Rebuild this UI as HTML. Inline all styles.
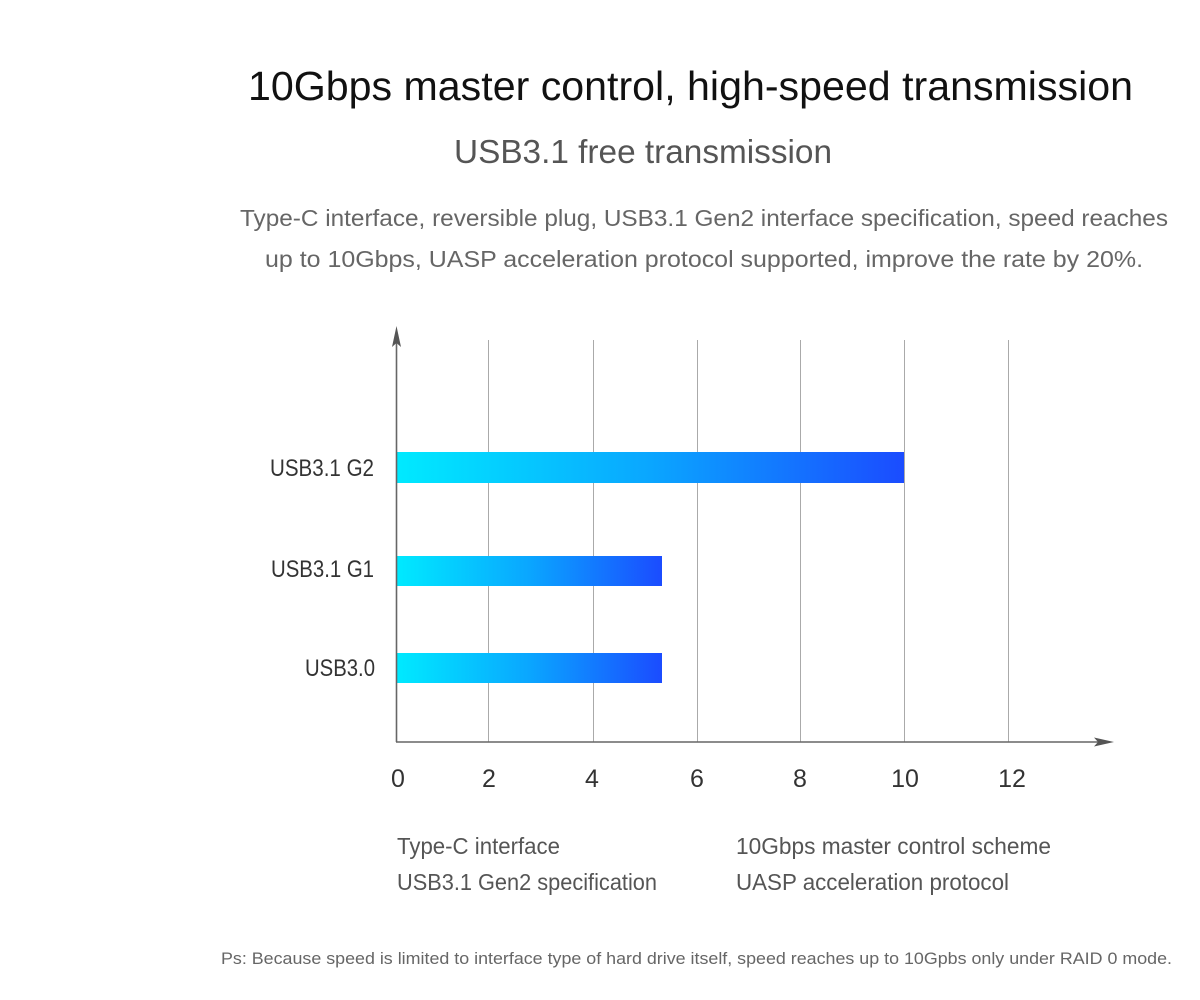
<!DOCTYPE html>
<html>
<head>
<meta charset="utf-8">
<style>
  html,body{margin:0;padding:0;background:#fff;}
  svg{display:block;}
  text{font-family:"Liberation Sans", sans-serif;}
</style>
</head>
<body>
<svg width="1200" height="1000" viewBox="0 0 1200 1000" xmlns="http://www.w3.org/2000/svg">
  <defs>
    <linearGradient id="bar" x1="0" y1="0" x2="1" y2="0">
      <stop offset="0" stop-color="#00eaff"/>
      <stop offset="0.5" stop-color="#0aa6ff"/>
      <stop offset="1" stop-color="#1b4cff"/>
    </linearGradient>
  </defs>
  <rect width="1200" height="1000" fill="#fff"/>

  <!-- Headings -->
  <text x="248" y="100" font-size="41" fill="#111" textLength="885" lengthAdjust="spacingAndGlyphs">10Gbps master control, high-speed transmission</text>
  <text x="454" y="163" font-size="33" fill="#555" textLength="378" lengthAdjust="spacingAndGlyphs">USB3.1 free transmission</text>
  <text x="240" y="226" font-size="23" fill="#666" textLength="928" lengthAdjust="spacingAndGlyphs">Type-C interface, reversible plug, USB3.1 Gen2 interface specification, speed reaches</text>
  <text x="265" y="267" font-size="23" fill="#666" textLength="878" lengthAdjust="spacingAndGlyphs">up to 10Gbps, UASP acceleration protocol supported, improve the rate by 20%.</text>

  <!-- gridlines -->
  <g stroke="#aaa" stroke-width="1">
    <line x1="488.5" y1="340" x2="488.5" y2="742"/>
    <line x1="593.5" y1="340" x2="593.5" y2="742"/>
    <line x1="697.5" y1="340" x2="697.5" y2="742"/>
    <line x1="800.5" y1="340" x2="800.5" y2="742"/>
    <line x1="904.5" y1="340" x2="904.5" y2="742"/>
    <line x1="1008.5" y1="340" x2="1008.5" y2="742"/>
  </g>

  <!-- bars -->
  <rect x="397" y="452" width="507" height="31" fill="url(#bar)"/>
  <rect x="397" y="556" width="265" height="30" fill="url(#bar)"/>
  <rect x="397" y="653" width="265" height="30" fill="url(#bar)"/>

  <!-- axes -->
  <g stroke="#666" stroke-width="1.6" fill="none">
    <line x1="396.5" y1="742" x2="396.5" y2="340"/>
    <line x1="396" y1="742" x2="1102" y2="742"/>
  </g>
  <path d="M396.5 326 L401 347 L396.5 343 L392 347 Z" fill="#555"/>
  <path d="M1114 742 L1094 737.5 L1098 742 L1094 746.5 Z" fill="#555"/>

  <!-- y labels -->
  <text x="270" y="476" font-size="24" fill="#333" textLength="104" lengthAdjust="spacingAndGlyphs">USB3.1 G2</text>
  <text x="271" y="577" font-size="24" fill="#333" textLength="103" lengthAdjust="spacingAndGlyphs">USB3.1 G1</text>
  <text x="305" y="676" font-size="24" fill="#333" textLength="70" lengthAdjust="spacingAndGlyphs">USB3.0</text>

  <!-- x ticks -->
  <g font-size="25" fill="#333" text-anchor="middle">
    <text x="398" y="787">0</text>
    <text x="489" y="787">2</text>
    <text x="592" y="787">4</text>
    <text x="697" y="787">6</text>
    <text x="800" y="787">8</text>
    <text x="905" y="787">10</text>
    <text x="1012" y="787">12</text>
  </g>

  <!-- bottom features -->
  <text x="397" y="854" font-size="23" fill="#555" textLength="163" lengthAdjust="spacingAndGlyphs">Type-C interface</text>
  <text x="397" y="890" font-size="23" fill="#555" textLength="260" lengthAdjust="spacingAndGlyphs">USB3.1 Gen2 specification</text>
  <text x="736" y="854" font-size="23" fill="#555" textLength="315" lengthAdjust="spacingAndGlyphs">10Gbps master control scheme</text>
  <text x="736" y="890" font-size="23" fill="#555" textLength="273" lengthAdjust="spacingAndGlyphs">UASP acceleration protocol</text>

  <text x="221" y="964" font-size="17" fill="#666" textLength="951" lengthAdjust="spacingAndGlyphs">Ps: Because speed is limited to interface type of hard drive itself, speed reaches up to 10Gpbs only under RAID 0 mode.</text>
</svg>
</body>
</html>
